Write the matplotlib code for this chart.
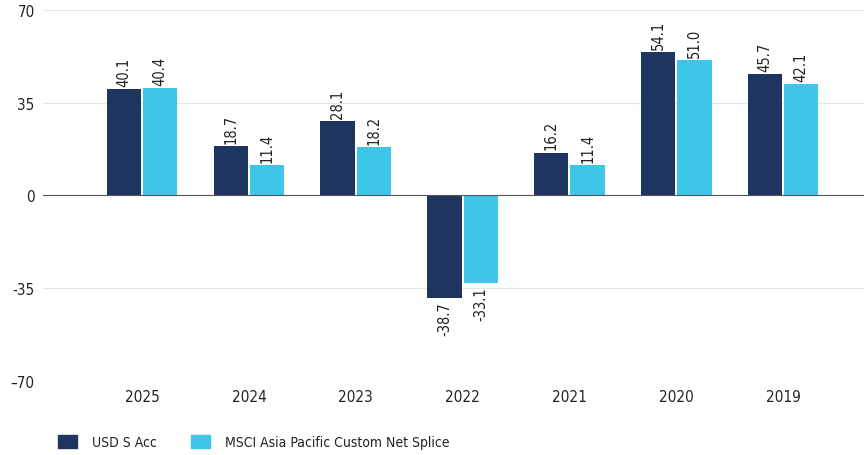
import matplotlib.pyplot as plt
import numpy as np
from matplotlib.patches import Patch

plt.rcParams['font.family'] = ['DejaVu Sans']
plt.rcParams['font.stretch'] = 'condensed'

years = ['2025', '2024', '2023', '2022', '2021', '2020', '2019']
fund = [40.1, 18.7, 28.1, -38.7, 16.2, 54.1, 45.7]
bench = [40.4, 11.4, 18.2, -33.1, 11.4, 51.0, 42.1]
yticks = [70, 35, 0, -35, -70]
ytick_labels = ['70', '35', '0', '-35', '\u201370']

dark = '#1d3560'
light = '#3ec5ea'

fig = plt.figure(figsize=(8.64, 4.56), dpi=100)
ax = fig.add_axes([0.05, 0.1623, 0.95, 0.8136])

x = np.arange(len(years))
w = 0.32
off = 0.17
b1 = ax.bar(x - off, fund, w, color=dark, zorder=3)
b2 = ax.bar(x + off, bench, w, color=light, zorder=3)

for bars, vals in ((b1, fund), (b2, bench)):
    for b, v in zip(bars, vals):
        cx = b.get_x() + b.get_width() / 2
        if v >= 0:
            ax.text(cx, v + 1.2, f'{v:.1f}', rotation=90, ha='center', va='bottom',
                    fontsize=10.5, color='#222222')
        else:
            ax.text(cx, v - 1.2, f'{v:.1f}', rotation=90, ha='center', va='top',
                    fontsize=10.5, color='#222222')

ax.set_xlim(-0.925, 6.757)
ax.set_ylim(-70, 70)
ax.set_yticks(yticks)
ax.set_yticklabels(ytick_labels)
ax.set_xticks(x)
ax.set_xticklabels(years)
for y in yticks:
    if y == 0:
        ax.axhline(0, color='#555555', lw=0.8, zorder=4)
    else:
        ax.axhline(y, color='#e6e6e6', lw=0.8, zorder=1)
for s in ax.spines.values():
    s.set_visible(False)
ax.tick_params(axis='both', length=0, labelsize=11, colors='#222222')
ax.tick_params(axis='y', pad=6)
ax.tick_params(axis='x', pad=6)

handles = [Patch(color=dark, label='USD S Acc'),
           Patch(color=light, label='MSCI Asia Pacific Custom Net Splice')]
fig.legend(handles=handles, loc='center left', bbox_to_anchor=(0.067, 0.0285),
           ncol=2, frameon=False, fontsize=10, handlelength=1.37, handleheight=1.15,
           columnspacing=2.5, handletextpad=1.08, borderpad=0, borderaxespad=0,
           labelcolor='#222222')

fig.savefig('out.png', dpi=100)
